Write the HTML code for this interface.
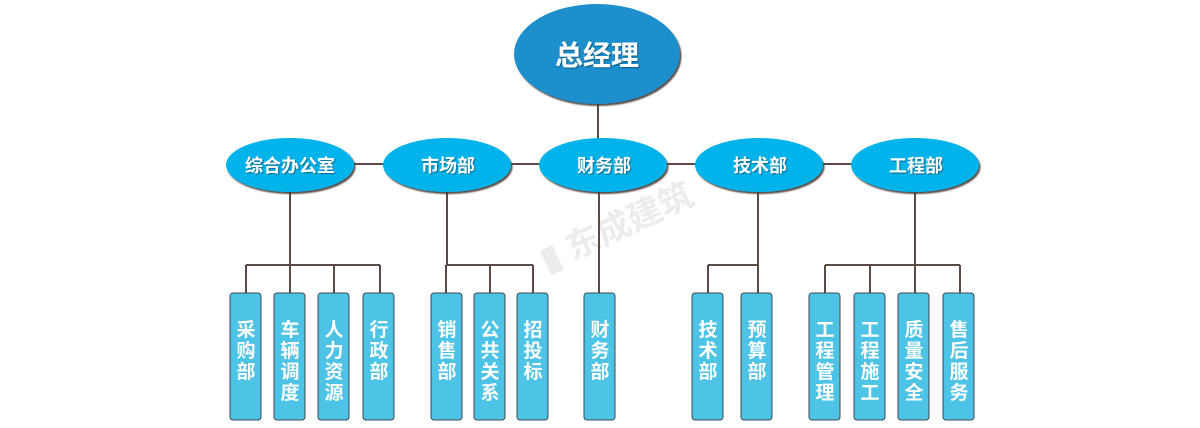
<!DOCTYPE html>
<html><head><meta charset="utf-8"><style>
html,body{margin:0;padding:0;background:#fff;width:1200px;height:428px;overflow:hidden}
svg text{font-family:"Liberation Sans","Noto Sans CJK SC",sans-serif;fill:#fff;font-weight:bold}
</style></head><body>
<svg width="1200" height="428" viewBox="0 0 1200 428" xmlns="http://www.w3.org/2000/svg">
<defs>
<filter id="sh" x="-20%" y="-20%" width="140%" height="150%"><feDropShadow dx="1.5" dy="2" stdDeviation="0.8" flood-color="#4a3a36" flood-opacity="0.9"/></filter>
<filter id="ts"><feDropShadow dx="1" dy="1" stdDeviation="0.6" flood-color="#003050" flood-opacity="0.6"/></filter>
</defs>
<text x="530" y="245" transform="rotate(-25 600 220)" style="fill:#ececec;font-size:34px">▮ 东成建筑</text>
<g stroke="#5a4a48" stroke-width="2" fill="none">
<line x1="598" y1="100" x2="598" y2="145"/>
<line x1="290" y1="164" x2="915" y2="164"/>
<line x1="290" y1="190" x2="290" y2="265"/>
<line x1="246" y1="265" x2="380" y2="265"/>
<line x1="246" y1="265" x2="246" y2="295"/><line x1="290" y1="265" x2="290" y2="295"/><line x1="334" y1="265" x2="334" y2="295"/><line x1="380" y1="265" x2="380" y2="295"/>
<line x1="447" y1="190" x2="447" y2="265"/>
<line x1="446" y1="265" x2="533" y2="265"/>
<line x1="446" y1="265" x2="446" y2="295"/><line x1="490" y1="265" x2="490" y2="295"/><line x1="533" y1="265" x2="533" y2="295"/>
<line x1="599" y1="190" x2="599" y2="295"/>
<line x1="758" y1="190" x2="758" y2="265"/>
<line x1="708" y1="265" x2="758" y2="265"/>
<line x1="708" y1="265" x2="708" y2="295"/><line x1="758" y1="265" x2="758" y2="295"/>
<line x1="915" y1="190" x2="915" y2="265"/>
<line x1="825" y1="265" x2="960" y2="265"/>
<line x1="825" y1="265" x2="825" y2="295"/><line x1="870" y1="265" x2="870" y2="295"/><line x1="915" y1="265" x2="915" y2="295"/><line x1="960" y1="265" x2="960" y2="295"/>
</g>
<g filter="url(#sh)">
<ellipse cx="597" cy="54" rx="83" ry="50" fill="#1a8fcc"/>
<ellipse cx="290" cy="165" rx="64" ry="27" fill="#00b3ea"/>
<ellipse cx="447" cy="165" rx="64" ry="27" fill="#00b3ea"/>
<ellipse cx="603" cy="165" rx="64" ry="27" fill="#00b3ea"/>
<ellipse cx="759" cy="165" rx="64" ry="27" fill="#00b3ea"/>
<ellipse cx="915" cy="165" rx="64" ry="27" fill="#00b3ea"/>
</g>
<g filter="url(#ts)" text-anchor="middle">
<text x="597" y="65" style="font-size:28px">总经理</text>
<text x="290" y="172" style="font-size:18px">综合办公室</text>
<text x="448" y="172" style="font-size:18px">市场部</text>
<text x="604" y="172" style="font-size:18px">财务部</text>
<text x="760" y="172" style="font-size:18px">技术部</text>
<text x="916" y="172" style="font-size:18px">工程部</text>
</g>
<g fill="#4dc3e6" stroke="#3d4a50" stroke-width="1">
<rect x="230" y="293" width="31" height="127" rx="3"/>
<rect x="274" y="293" width="31" height="127" rx="3"/>
<rect x="318" y="293" width="31" height="127" rx="3"/>
<rect x="363" y="293" width="31" height="127" rx="3"/>
<rect x="431" y="293" width="31" height="127" rx="3"/>
<rect x="474" y="293" width="31" height="127" rx="3"/>
<rect x="517" y="293" width="31" height="127" rx="3"/>
<rect x="584" y="293" width="31" height="127" rx="3"/>
<rect x="692" y="293" width="31" height="127" rx="3"/>
<rect x="741" y="293" width="31" height="127" rx="3"/>
<rect x="809" y="293" width="31" height="127" rx="3"/>
<rect x="854" y="293" width="31" height="127" rx="3"/>
<rect x="898" y="293" width="31" height="127" rx="3"/>
<rect x="943" y="293" width="31" height="127" rx="3"/>
</g>
<g text-anchor="middle" style="font-size:19px">
<text x="246" y="336">采</text><text x="246" y="357">购</text><text x="246" y="378">部</text>
<text x="290" y="336">车</text><text x="290" y="357">辆</text><text x="290" y="378">调</text><text x="290" y="399">度</text>
<text x="334" y="336">人</text><text x="334" y="357">力</text><text x="334" y="378">资</text><text x="334" y="399">源</text>
<text x="379" y="336">行</text><text x="379" y="357">政</text><text x="379" y="378">部</text>
<text x="447" y="336">销</text><text x="447" y="357">售</text><text x="447" y="378">部</text>
<text x="490" y="336">公</text><text x="490" y="357">共</text><text x="490" y="378">关</text><text x="490" y="399">系</text>
<text x="533" y="336">招</text><text x="533" y="357">投</text><text x="533" y="378">标</text>
<text x="600" y="336">财</text><text x="600" y="357">务</text><text x="600" y="378">部</text>
<text x="708" y="336">技</text><text x="708" y="357">术</text><text x="708" y="378">部</text>
<text x="757" y="336">预</text><text x="757" y="357">算</text><text x="757" y="378">部</text>
<text x="825" y="336">工</text><text x="825" y="357">程</text><text x="825" y="378">管</text><text x="825" y="399">理</text>
<text x="870" y="336">工</text><text x="870" y="357">程</text><text x="870" y="378">施</text><text x="870" y="399">工</text>
<text x="914" y="336">质</text><text x="914" y="357">量</text><text x="914" y="378">安</text><text x="914" y="399">全</text>
<text x="959" y="336">售</text><text x="959" y="357">后</text><text x="959" y="378">服</text><text x="959" y="399">务</text>
</g>
</svg>
</body></html>
